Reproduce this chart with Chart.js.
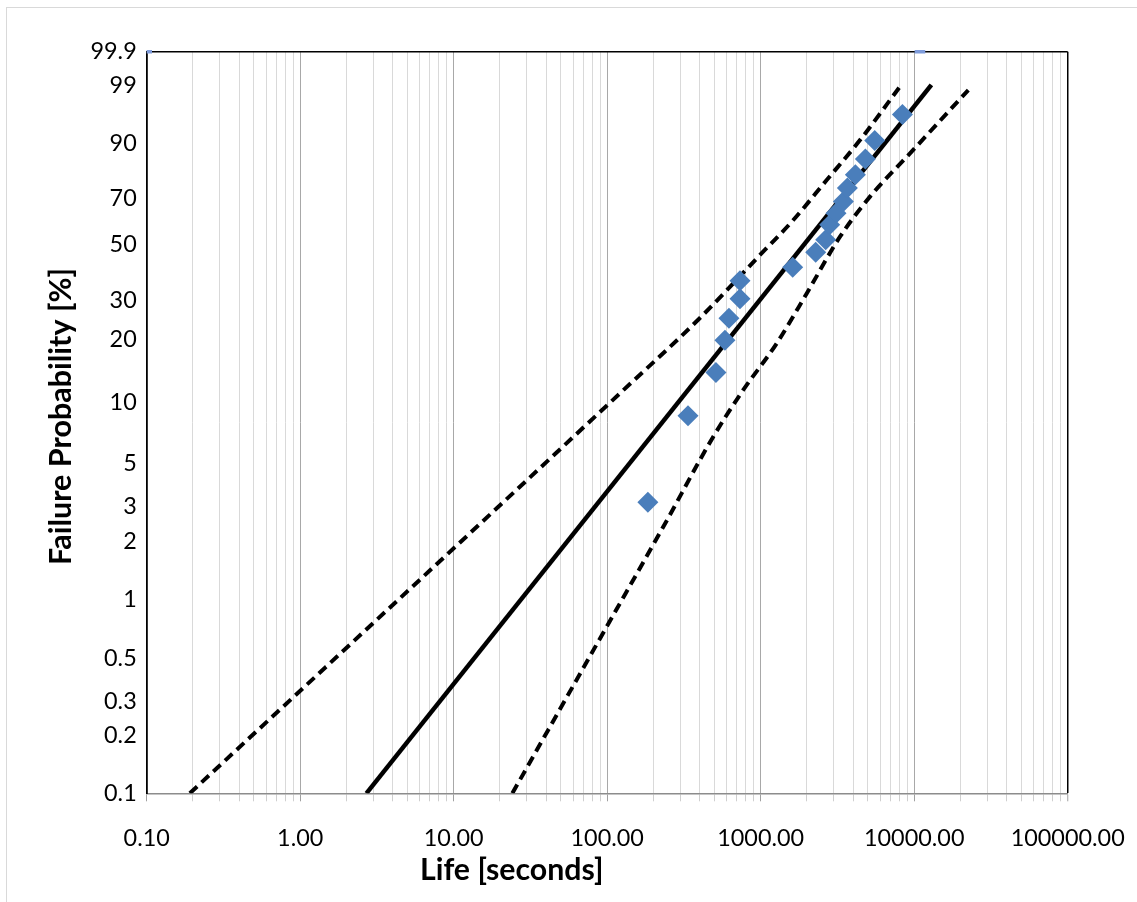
<!DOCTYPE html>
<html>
<head>
<meta charset="utf-8">
<script src="https://cdn.jsdelivr.net/npm/chart.js@4.4.1/dist/chart.umd.min.js"></script>
<style>
html,body{margin:0;padding:0;background:#fff;overflow:hidden;width:1137px;height:902px;}
#frame{position:absolute;left:6px;top:7px;width:1300px;height:1100px;border:1px solid #d9d9d9;}
#c{position:absolute;left:0;top:0;}
</style>
</head>
<body>
<div id="frame"></div>
<canvas id="c" width="1137" height="902"></canvas>
<script>
// ---- data ----
const yTickPercents = [0.1, 0.2, 0.3, 0.5, 1, 2, 3, 5, 10, 20, 30, 50, 70, 90, 99, 99.9];
const yTickLabels   = ['0.1','0.2','0.3','0.5','1','2','3','5','10','20','30','50','70','90','99','99.9'];
const xDecades      = [0.1, 1, 10, 100, 1000, 10000, 100000];
const xTickLabels   = ['0.10','1.00','10.00','100.00','1000.00','10000.00','100000.00'];

const failureTimes = [184, 336, 511, 585, 621, 733, 733, 1616, 2281, 2651, 2816, 3095, 3457, 3670, 4138, 4808, 5531, 8380];
const failureProb  = [3.16, 8.62, 14.0, 19.9, 25.0, 30.5, 36.3, 41.1, 46.9, 52.0, 58.4, 63.5, 68.6, 74.3, 79.7, 85.4, 90.9, 96.2];

const fitTimes = [2.70, 12940];
const fitProb  = [0.1, 99.05];

const upperTimes = [0.191, 121, 402, 990, 1631, 2692, 4436, 8079];
const upperProb  = [0.1, 11.1, 25.1, 45.8, 60.5, 77.6, 91.0, 98.95];

const lowerTimes = [24.1, 99.2, 232, 491, 770, 1272, 1994, 3286, 5153, 9391, 22510];
const lowerProb  = [0.1, 0.726, 2.37, 6.78, 11.53, 19.24, 32.1, 53.3, 70.7, 87.2, 98.74];

const refTimes = [0.1, 10900];
const refProb  = [99.9, 99.9];

const xTitle = 'Life [seconds]';
const yTitle = 'Failure Probability [%]';

// ---- Weibull probability transform ----
function weib(p) { const f = p / 100; return Math.log(-Math.log(1 - f)); }
function pts(xs, ps) { return xs.map((x, i) => ({ x: x, y: weib(ps[i]) })); }

// grid values: 1..9 per decade
const xGridValues = [];
for (let d = 0; d < xDecades.length - 1; d++) {
  for (let k = 1; k <= 9; k++) xGridValues.push(k * xDecades[d]);
}
xGridValues.push(xDecades[xDecades.length - 1]);

function decadeIndex(v) {
  for (let i = 0; i < xDecades.length; i++) {
    if (Math.abs(v - xDecades[i]) / xDecades[i] < 1e-9) return i;
  }
  return -1;
}

const FONT = 'Lato, "Open Sans", sans-serif';

const axisTitles = {
  id: 'axisTitles',
  afterDraw(chart) {
    const ctx = chart.ctx, a = chart.chartArea;
    ctx.save();
    ctx.fillStyle = '#000';
    ctx.textAlign = 'center';
    ctx.textBaseline = 'middle';
    ctx.font = 'bold 30.3px ' + FONT;
    ctx.fillText(xTitle, a.left + 365, a.bottom + 77);
    ctx.font = 'bold 30.5px ' + FONT;
    ctx.translate(a.left - 86, (a.top + a.bottom) / 2 - 6);
    ctx.rotate(-Math.PI / 2);
    ctx.fillText(yTitle, 0, 0);
    ctx.restore();
  }
};

new Chart(document.getElementById('c'), {
  type: 'scatter',
  data: {
    datasets: [
      { label: 'Data', data: pts(failureTimes, failureProb), pointStyle: 'rectRot', pointRadius: 10.5,
        backgroundColor: '#4A7EBB', borderColor: '#4A7EBB', borderWidth: 0, showLine: false, order: 0 },
      { label: 'Ref', data: pts(refTimes, refProb), pointStyle: 'line', pointRadius: 5.3,
        borderColor: '#7F9CDB', backgroundColor: '#7F9CDB', borderWidth: 3.5, showLine: false, order: 1,
        clip: { left: 0, top: false, right: false, bottom: false } },
      { label: 'Fit', data: pts(fitTimes, fitProb), showLine: true, borderColor: '#000', borderWidth: 4.5,
        pointRadius: 0, order: 2 },
      { label: 'Upper', data: pts(upperTimes, upperProb), showLine: true, borderColor: '#000', borderWidth: 4,
        borderDash: [10, 6], pointRadius: 0, cubicInterpolationMode: 'monotone', order: 2 },
      { label: 'Lower', data: pts(lowerTimes, lowerProb), showLine: true, borderColor: '#000', borderWidth: 4,
        borderDash: [10, 6], pointRadius: 0, cubicInterpolationMode: 'monotone', order: 2 }
    ]
  },
  options: {
    responsive: false,
    animation: false,
    devicePixelRatio: 1,
    layout: { padding: { left: 0, top: 51.7, right: 69.3, bottom: 0 } },
    plugins: { legend: { display: false }, tooltip: { enabled: false } },
    scales: {
      x: {
        type: 'logarithmic',
        min: xDecades[0],
        max: xDecades[xDecades.length - 1],
        afterBuildTicks(s) { s.ticks = xGridValues.map(v => ({ value: v })); },
        afterFit(s) { s.height = 902 - 793.3; s.paddingLeft = 0; s.paddingRight = 0; },
        ticks: {
          autoSkip: false, maxRotation: 0, minRotation: 0, padding: 23, color: '#000',
          font: { family: FONT, size: 23.4 },
          callback(v) { const i = decadeIndex(v); return i >= 0 ? xTickLabels[i] : ''; }
        },
        grid: {
          color(ctx) {
            const v = ctx.tick ? ctx.tick.value : 0;
            if (Math.abs(v - xDecades[xDecades.length - 1]) < 1e-6) return '#000';
            return decadeIndex(v) >= 0 ? '#a8a8a8' : '#d9d9d9';
          },
          lineWidth(ctx) {
            const v = ctx.tick ? ctx.tick.value : 0;
            return Math.abs(v - xDecades[xDecades.length - 1]) < 1e-6 ? 1.5 : 1;
          },
          tickColor(ctx) {
            const v = ctx.tick ? ctx.tick.value : 0;
            return decadeIndex(v) >= 0 ? '#a0a0a0' : '#cfcfcf';
          },
          tickLength: 8,
          tickWidth: 1
        },
        border: { color: '#8c8c8c', width: 1.5 }
      },
      y: {
        type: 'linear',
        min: weib(yTickPercents[0]),
        max: weib(yTickPercents[yTickPercents.length - 1]),
        afterBuildTicks(s) { s.ticks = yTickPercents.map(p => ({ value: weib(p) })); },
        afterFit(s) { s.width = 146.7; s.paddingTop = 0; s.paddingBottom = 0; },
        ticks: {
          autoSkip: false, padding: 10, color: '#000',
          font: { family: FONT, size: 23.4 },
          callback(v, i) { return yTickLabels[i]; }
        },
        grid: {
          drawTicks: false,
          color(ctx) { return ctx.index === yTickPercents.length - 1 ? '#000' : 'rgba(0,0,0,0)'; },
          lineWidth(ctx) { return ctx.index === yTickPercents.length - 1 ? 1.5 : 1; }
        },
        border: { color: '#000', width: 1.8 }
      }
    }
  },
  plugins: [axisTitles]
});
</script>
</body>
</html>
